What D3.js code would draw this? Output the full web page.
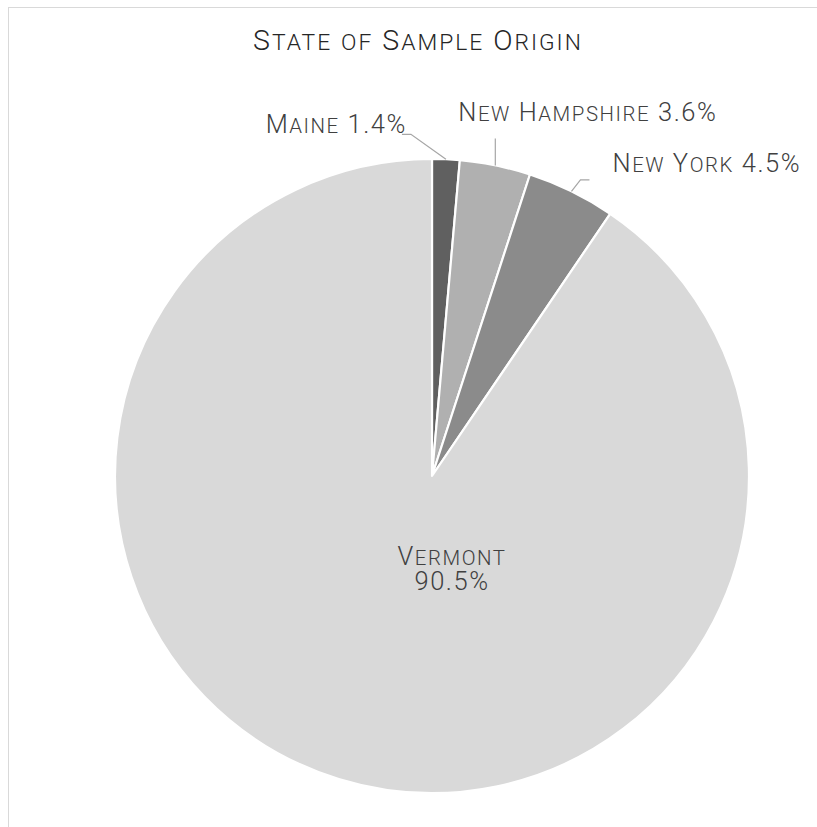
<!DOCTYPE html>
<html><head><meta charset="utf-8">
<script src="https://cdn.jsdelivr.net/npm/d3@7"></script>
<style>body{margin:0;background:#fff}svg{display:block}</style>
</head><body>
<svg id="c" width="817" height="827"></svg>
<script>
const categories = ["Maine", "New Hampshire", "New York", "Vermont"];
const values = [1.4, 3.6, 4.5, 90.5];
const valueLabels = ["1.4%", "3.6%", "4.5%", "90.5%"];
const colors = ["#606060", "#b0b0b0", "#8b8b8b", "#d9d9d9"];
const title = "State of Sample Origin";

const W = 817, H = 827;
const cx = 432, cy = 476, R = 317;
const svg = d3.select("#c");
const FONT = "Roboto, 'Liberation Sans', Arial, sans-serif";

// chart frame
svg.append("rect").attr("x", 8.5).attr("y", 7.5).attr("width", 900).attr("height", 900)
  .attr("fill", "#fff").attr("stroke", "#d9d9d9").attr("stroke-width", 1);

// small caps helper
function smallCaps(sel, text, size, ratio) {
  const parts = [];
  for (const ch of text) {
    const isLower = ch !== ch.toUpperCase();
    const s = isLower ? size * ratio : size;
    if (parts.length && parts[parts.length - 1].s === s) parts[parts.length - 1].t += ch.toUpperCase();
    else parts.push({ t: ch.toUpperCase(), s });
  }
  parts.forEach(p => sel.append("tspan").attr("font-size", p.s).text(p.t));
  return sel;
}

// title
const tt = svg.append("text").attr("x", 418).attr("y", 49.5).attr("text-anchor", "middle")
  .attr("font-family", FONT).attr("font-weight", 300).attr("fill", "#262626").attr("letter-spacing", 2.0);
smallCaps(tt, title, 28.5, 0.8);

const pie = d3.pie().sort(null).value(d => d).startAngle(0).endAngle(2 * Math.PI);
const arcs = pie(values);
const arc = d3.arc().innerRadius(0).outerRadius(R);

const g = svg.append("g").attr("transform", `translate(${cx},${cy})`);
g.selectAll("path").data(arcs).join("path")
  .attr("d", arc).attr("fill", (d, i) => colors[i])
  .attr("stroke", "#fff").attr("stroke-width", 2.2).attr("stroke-linejoin", "round");

// label layout (offsets relative to slice's outer mid point)
const labelLayout = [
  { leader: [[0, 0], [-35, -25], [-44, -25]], tx: -39, ty: -26, anchor: "end" },
  { leader: [[0, 0], [0, -27]], tx: -37, ty: -44, anchor: "start" },
  { leader: [[0, 0], [9, -11.5], [18, -11.5]], tx: 41, ty: -19, anchor: "start" },
  null
];
const LSIZE = 25.5, LCOL = "#404040", LSP = 1.55;
arcs.forEach((a, i) => {
  const lay = labelLayout[i];
  const mid = (a.startAngle + a.endAngle) / 2;
  if (!lay) return;
  const px = Math.sin(mid) * R, py = -Math.cos(mid) * R;
  g.append("path")
    .attr("d", d3.line()(lay.leader.map(p => [px + p[0], py + p[1]])))
    .attr("fill", "none").attr("stroke", "#a6a6a6").attr("stroke-width", 1.2);
  const t = g.append("text").attr("x", px + lay.tx).attr("y", py + lay.ty)
    .attr("text-anchor", lay.anchor).attr("font-family", FONT).attr("font-weight", 300).attr("fill", LCOL)
    .attr("letter-spacing", LSP);
  smallCaps(t, categories[i] + " " + valueLabels[i], LSIZE, 0.8);
});

// Vermont inside label (one text, two lines)
const vt = g.append("text").attr("text-anchor", "middle")
  .attr("font-family", FONT).attr("font-weight", 300).attr("fill", LCOL).attr("letter-spacing", LSP);
const l1 = vt.append("tspan").attr("x", 20).attr("y", 88.5);
smallCaps(l1, categories[3], LSIZE, 0.8);
vt.append("tspan").attr("x", 20).attr("dy", 25).attr("font-size", LSIZE).text(valueLabels[3]);
</script>
</body></html>
